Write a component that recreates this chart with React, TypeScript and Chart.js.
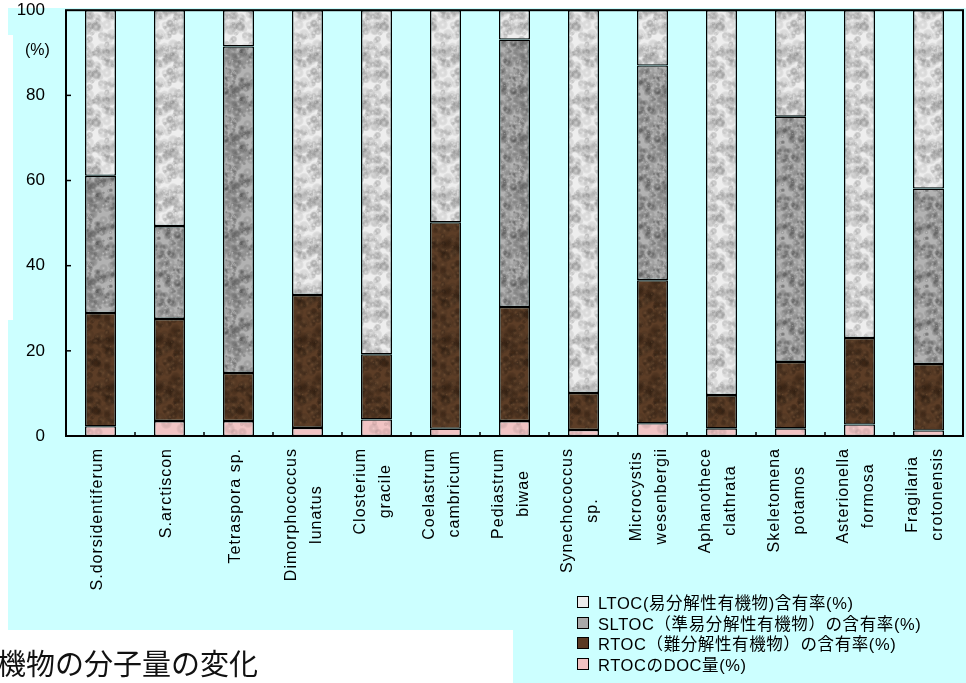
import React, { useEffect, useRef } from "react";
import { Chart, registerables } from "chart.js";

Chart.register(...registerables);

const categories: string[][] = [
  ["S.dorsidentiferum"],
  ["S.arctiscon"],
  ["Tetraspora sp."],
  ["Dimorphococcus", "lunatus"],
  ["Closterium", "gracile"],
  ["Coelastrum", "cambricum"],
  ["Pediastrum", "biwae"],
  ["Synechococcus", "sp."],
  ["Microcystis", "wesenbergii"],
  ["Aphanothece", "clathrata"],
  ["Skeletomena", "potamos"],
  ["Asterionella", "formosa"],
  ["Fragilaria", "crotonensis"],
];

// RTOC の DOC 量 (%)
const docValues = [2.3, 3.5, 3.5, 1.9, 3.9, 1.7, 3.5, 1.4, 3.0, 1.8, 1.8, 2.7, 1.3];
// RTOC total (%) (including DOC part)
const rtocValues = [28.9, 27.5, 14.8, 33.1, 19.2, 50.2, 30.3, 10.1, 36.6, 9.6, 17.4, 23.0, 16.9];
// SLTOC (%)
const sltocValues = [32.2, 21.8, 76.7, 0, 0, 0, 62.8, 0, 50.4, 0, 57.6, 0, 41.2];
// LTOC (%)
const ltocValues = [38.9, 50.7, 8.5, 66.9, 80.8, 49.8, 6.9, 89.9, 13.0, 90.4, 25.0, 77.0, 41.9];

const yTickValues = [0, 20, 40, 60, 80, 100];

const legendItems = [
  { label: "LTOC(易分解性有機物)含有率(%)", color: "#ececec" },
  { label: "SLTOC（準易分解性有機物）の含有率(%)", color: "#a9a9a9" },
  { label: "RTOC（難分解性有機物）の含有率(%)", color: "#5a3a24" },
  { label: "RTOCのDOC量(%)", color: "#f0c2c2" },
];

const CYAN = "#ccffff";
const FONT = '"Liberation Sans", Arial, "Noto Sans CJK JP", sans-serif';

function hash(n: number) {
  const s = Math.sin(n * 127.1 + 311.7) * 43758.5453;
  return s - Math.floor(s);
}

function makeTexture(base: string, dark: string, light: string, seed: number, count: number, alpha: number, rMin: number, rVar: number) {
  const size = 48;
  const c = document.createElement("canvas");
  c.width = size;
  c.height = size;
  const g = c.getContext("2d")!;
  g.fillStyle = base;
  g.fillRect(0, 0, size, size);
  for (let i = 0; i < count; i++) {
    const x = hash(seed + i * 4) * size;
    const y = hash(seed + i * 4 + 1) * size;
    const r = rMin + hash(seed + i * 4 + 2) * rVar;
    const col = hash(seed + i * 4 + 3) < 0.5 ? dark : light;
    for (const dx of [-size, 0, size]) {
      for (const dy of [-size, 0, size]) {
        const grd = g.createRadialGradient(x + dx, y + dy, 0, x + dx, y + dy, r);
        grd.addColorStop(0, col);
        grd.addColorStop(1, "rgba(0,0,0,0)");
        g.globalAlpha = alpha;
        g.fillStyle = grd;
        g.beginPath();
        g.arc(x + dx, y + dy, r, 0, Math.PI * 2);
        g.fill();
      }
    }
  }
  g.globalAlpha = 1;
  return g.createPattern(c, "repeat") as CanvasPattern;
}

const nz = (arr: number[]) => arr.map((v) => (v === 0 ? null : v));

export default function App() {
  const canvasRef = useRef<HTMLCanvasElement | null>(null);

  useEffect(() => {
    document.body.style.margin = "0";
    document.body.style.overflow = "hidden";
    const canvas = canvasRef.current;
    if (!canvas) return;

    const pLtoc = makeTexture("#eeeeee", "#d6d6d6", "#fafafa", 11, 110, 0.35, 2, 4);
    const pSltoc = makeTexture("#b2b2b2", "#666666", "#dadada", 37, 150, 0.45, 1.5, 3.5);
    const pRtoc = makeTexture("#5c3d26", "#3c2412", "#7e5b3c", 71, 110, 0.45, 2, 4);
    const pDoc = makeTexture("#f1c4c4", "#e6b4b4", "#f8d6d6", 97, 30, 0.35, 2, 4);

    const bgPlugin = {
      id: "bgPlugin",
      beforeDraw(chart: any) {
        const ctx = chart.ctx;
        ctx.save();
        ctx.fillStyle = "#ffffff";
        ctx.fillRect(0, 0, chart.width, chart.height);
        ctx.fillStyle = CYAN;
        ctx.fillRect(8, 8, chart.width - 8, 622);
        ctx.fillRect(513, 630, chart.width - 513, chart.height - 630);
        ctx.fillStyle = "#ffffff";
        ctx.fillRect(0, 35, 13, 285);
        ctx.restore();
      },
      afterDraw(chart: any) {
        const ctx = chart.ctx;
        const { left, right, top, bottom } = chart.chartArea;
        const xs = chart.scales.x;
        const ys = chart.scales.y;
        ctx.save();
        ctx.strokeStyle = "#000";
        ctx.lineWidth = 1.5;
        ys.ticks.forEach((t: any) => {
          if (t.value <= 0 || t.value >= 100) return;
          const py = ys.getPixelForValue(t.value);
          ctx.beginPath();
          ctx.moveTo(left, py);
          ctx.lineTo(left + 5, py);
          ctx.stroke();
        });
        const n = chart.data.labels.length;
        for (let i = 1; i < n; i++) {
          const px = (xs.getPixelForValue(i - 1) + xs.getPixelForValue(i)) / 2;
          ctx.beginPath();
          ctx.moveTo(px, bottom);
          ctx.lineTo(px, bottom - 4);
          ctx.stroke();
        }
        ctx.lineWidth = 2;
        ctx.strokeRect(left, top, right - left, bottom - top);

        ctx.fillStyle = "#000";
        ctx.font = "16px " + FONT;
        (ctx as any).letterSpacing = "1px";
        chart.data.labels.forEach((lab: string[], i: number) => {
          const lines = Array.isArray(lab) ? lab : [lab];
          const maxW = Math.max(...lines.map((l) => ctx.measureText(l).width));
          const cx = xs.getPixelForValue(i) - 3;
          const cy = bottom + 12 + maxW / 2;
          lines.forEach((line, j) => {
            const lx = cx + (j - (lines.length - 1) / 2) * 25;
            ctx.save();
            ctx.translate(lx, cy);
            ctx.rotate(-Math.PI / 2);
            ctx.textAlign = "center";
            ctx.textBaseline = "middle";
            ctx.fillText(line, 0, 0);
            ctx.restore();
          });
        });
        ctx.restore();
      },
    };

    const bw = { top: 1.3, bottom: 1.3, left: 1.5, right: 1.5 };
    const common = {
      borderColor: "#000",
      borderWidth: bw,
      borderSkipped: false,
      barPercentage: 1,
      categoryPercentage: 0.45,
      stack: "s",
    };

    const chart = new Chart(canvas, {
      type: "bar",
      data: {
        labels: categories as any,
        datasets: [
          { ...common, label: legendItems[3].label, data: nz(docValues), backgroundColor: pDoc },
          {
            ...common,
            label: legendItems[2].label,
            data: nz(rtocValues.map((v, i) => +(v - docValues[i]).toFixed(1))),
            backgroundColor: pRtoc,
          },
          { ...common, label: legendItems[1].label, data: nz(sltocValues), backgroundColor: pSltoc },
          { ...common, label: legendItems[0].label, data: nz(ltocValues), backgroundColor: pLtoc },
        ] as any,
      },
      options: {
        animation: false,
        responsive: true,
        maintainAspectRatio: false,
        layout: { autoPadding: false, padding: { top: 10, right: 3, left: 0, bottom: 0 } },
        plugins: { legend: { display: false }, tooltip: { enabled: false } },
        scales: {
          x: {
            stacked: true,
            grid: { display: false, drawTicks: false },
            border: { display: false },
            ticks: { display: false },
            afterFit(scale: any) {
              scale.height = 247;
            },
          },
          y: {
            stacked: true,
            min: 0,
            max: 100,
            afterBuildTicks(scale: any) {
              scale.ticks = yTickValues.map((v) => ({ value: v }));
            },
            grid: { display: false, drawTicks: true, tickLength: 21 },
            border: { display: false },
            ticks: {
              color: "#000",
              padding: 0,
              font: { size: 17, family: FONT },
            },
            afterFit(scale: any) {
              scale.width = 66;
            },
          },
        },
      } as any,
      plugins: [bgPlugin],
    });

    return () => chart.destroy();
  }, []);

  return (
    <div style={{ position: "relative", width: 966, height: 683, overflow: "hidden", fontFamily: FONT }}>
      <canvas ref={canvasRef} style={{ position: "absolute", left: 0, top: 0, width: 966, height: 683 }} />
      <div style={{ position: "absolute", left: 25, top: 41, fontSize: 16, lineHeight: "18px", color: "#000" }}>(%)</div>
      <div style={{ position: "absolute", left: 577, top: 592 }}>
        {legendItems.map((it) => (
          <div key={it.label} style={{ display: "flex", alignItems: "center", height: 20.5 }}>
            <div
              style={{
                width: 10,
                height: 10,
                border: "1px solid #000",
                background: it.color,
                marginRight: 9,
                flex: "none",
              }}
            />
            <span style={{ fontSize: 16.5, letterSpacing: "0.6px", color: "#000", whiteSpace: "nowrap" }}>{it.label}</span>
          </div>
        ))}
      </div>
      <div
        style={{
          position: "absolute",
          left: -3,
          top: 648,
          fontSize: 29,
          lineHeight: "29px",
          color: "#111",
          whiteSpace: "nowrap",
          fontFamily: '"Noto Sans CJK JP", sans-serif',
        }}
      >
        機物の分子量の変化
      </div>
    </div>
  );
}
